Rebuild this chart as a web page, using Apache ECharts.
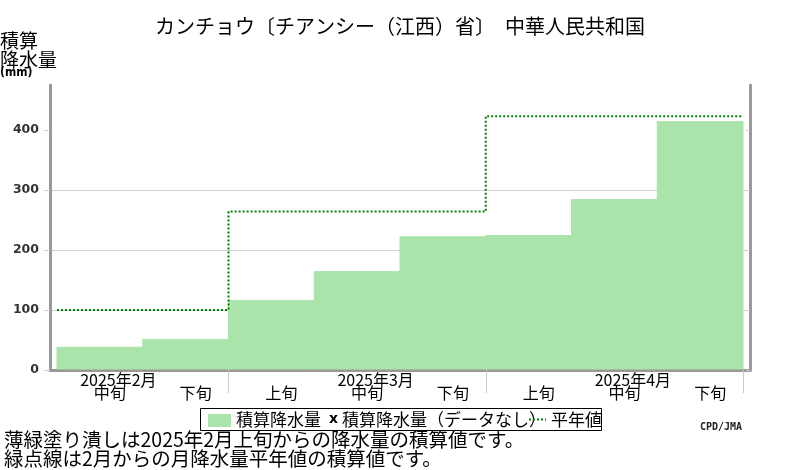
<!DOCTYPE html>
<html>
<head>
<meta charset="utf-8">
<script src="https://cdn.jsdelivr.net/npm/echarts@6/dist/echarts.min.js"></script>
<style>
  html, body { margin: 0; padding: 0; background: #fff; }
  #chart { width: 800px; height: 470px; }
</style>
</head>
<body>
<div id="chart"></div>
<script>
// 旬ごとのラベル（2月中旬〜4月下旬）
const decades = ['中旬', '下旬', '上旬', '中旬', '下旬', '上旬', '中旬', '下旬']
const months = ['2025年2月', '2025年3月', '2025年4月']
const monthDecadeCount = [2, 3, 3]
// 積算降水量 (mm)
const accumPrecip = [38, 51, 116, 164, 222, 224, 284, 414]
// 月降水量平年値の積算値 (mm)
const normalAccum = [100, 264, 423]
const yTicks = [0, 100, 200, 300, 400]

const GREEN = '#abe4ab'
const DOT = '#008000'
const JP = '"Noto Sans CJK JP", sans-serif'

// month boundaries and label positions, in decade units
const monthEnds = []
const monthLabelPos = []
let acc = 0
monthDecadeCount.forEach((n) => {
  // month label sits over the 中旬 of each month
  for (let k = acc; k < acc + n; k++) {
    if (decades[k] === '中旬') { monthLabelPos.push(k + 0.5); break }
  }
  acc += n
  monthEnds.push(acc)
})
const decadeCenters = decades.map((d, i) => i + 0.5)

// step line of normals
const normalLine = []
let start = 0
normalAccum.forEach((v, m) => {
  normalLine.push([start, v])
  normalLine.push([monthEnds[m], v])
  start = monthEnds[m]
})

const pad = 7 / 85.75
const chart = echarts.init(document.getElementById('chart'))

const option = {
  animation: false,
  title: {
    text: 'カンチョウ〔チアンシー（江西）省〕　中華人民共和国',
    left: 150,
    top: 11,
    textStyle: { fontFamily: JP, fontSize: 20, fontWeight: 'normal', color: '#000' },
  },
  grid: { left: 50, right: 50, top: 85, bottom: 100, containLabel: false },
  xAxis: [
    {
      type: 'value',
      min: -pad,
      max: 8 + pad,
      axisLine: { show: true, lineStyle: { color: '#999', width: 3 } },
      axisTick: { show: true, customValues: monthEnds, length: 23, lineStyle: { color: '#ccc', width: 1 } },
      axisLabel: {
        customValues: decadeCenters,
        formatter: (v) => decades[Math.floor(v)],
        margin: 15,
        padding: [0, 0, 0, 20],
        fontFamily: JP,
        fontSize: 16,
        color: '#000',
      },
      splitLine: { show: false },
    },
    {
      type: 'value',
      position: 'bottom',
      min: -pad,
      max: 8 + pad,
      axisLine: { show: false },
      axisTick: { show: false },
      axisLabel: {
        customValues: monthLabelPos,
        formatter: (v) => months[monthLabelPos.indexOf(v)],
        margin: 2,
        padding: [0, 0, 0, 37],
        fontFamily: JP,
        fontSize: 16,
        color: '#000',
      },
      splitLine: { show: false },
    },
  ],
  yAxis: [
    {
      type: 'value',
      min: 0,
      max: 475,
      interval: 100,
      axisLine: { show: true, onZero: false, lineStyle: { color: '#999', width: 3 } },
      axisTick: { show: true, length: 6, customValues: yTicks, lineStyle: { color: '#ccc' } },
      axisLabel: {
        customValues: yTicks,
        margin: 11,
        fontFamily: 'DejaVu Sans',
        fontWeight: 'bold',
        fontSize: 12.5,
        color: '#333',
      },
      splitLine: { show: true, showMaxLine: false, lineStyle: { color: '#d0d0d0', width: 1 } },
    },
    {
      type: 'value',
      position: 'right',
      min: 0,
      max: 475,
      interval: 100,
      axisLine: { show: true, onZero: false, lineStyle: { color: '#999', width: 3 } },
      axisTick: { show: true, inside: true, length: 4, customValues: yTicks, lineStyle: { color: '#ccc' } },
      axisLabel: { show: false },
      splitLine: { show: false },
    },
  ],
  series: [
    {
      name: '積算降水量',
      type: 'custom',
      xAxisIndex: 0,
      yAxisIndex: 0,
      data: accumPrecip.map((v, i) => [i, v]),
      renderItem: (params, api) => {
        const p0 = api.coord([api.value(0), 0])
        const p1 = api.coord([api.value(0) + 1, api.value(1)])
        return {
          type: 'rect',
          shape: { x: p0[0], y: p1[1], width: p1[0] - p0[0], height: p0[1] - p1[1] - 1 },
          style: { fill: GREEN, stroke: GREEN, lineWidth: 1 },
        }
      },
      z: 2,
    },
    {
      name: '平年値',
      type: 'line',
      xAxisIndex: 0,
      yAxisIndex: 0,
      data: normalLine,
      showSymbol: false,
      symbol: 'none',
      lineStyle: { color: DOT, width: 2, type: [2, 2] },
      z: 3,
    },
  ],
  graphic: [
    // y axis name
    {
      type: 'text', left: 0, top: 31,
      style: { text: '積算\n降水量', font: '19px ' + JP, lineHeight: 19, fill: '#000' },
    },
    {
      type: 'text', left: 0, top: 67,
      style: { text: '(mm)', font: 'bold 12px "DejaVu Sans Condensed"', fill: '#000' },
    },
    // legend box
    {
      type: 'group', left: 200, top: 408,
      children: [
        { type: 'rect', shape: { x: 0.5, y: 0.5, width: 401, height: 22 }, style: { fill: '#fff', stroke: '#000', lineWidth: 1 } },
        { type: 'rect', shape: { x: 8, y: 6, width: 23, height: 13 }, style: { fill: GREEN } },
        { type: 'text', x: 36, y: 12, style: { text: '積算降水量', font: '17px ' + JP, fill: '#000', verticalAlign: 'middle' } },
        { type: 'text', x: 129, y: 11, style: { text: 'x', font: 'bold 14px "DejaVu Sans"', fill: '#000', verticalAlign: 'middle' } },
        { type: 'text', x: 142, y: 12, style: { text: '積算降水量（データなし）', font: '17px ' + JP, fill: '#000', verticalAlign: 'middle' } },
        { type: 'line', shape: { x1: 329, y1: 11.5, x2: 346, y2: 11.5 }, style: { stroke: DOT, lineWidth: 2, lineDash: [2, 2] } },
        { type: 'text', x: 351, y: 12, style: { text: '平年値', font: '17px ' + JP, fill: '#000', verticalAlign: 'middle' } },
      ],
    },
    {
      type: 'text', left: 700, top: 422,
      style: { text: 'CPD/JMA', font: 'bold 10px "DejaVu Sans Mono"', fill: '#222' },
    },
    // notes
    {
      type: 'text', left: 4, top: 430,
      style: {
        text: '薄緑塗り潰しは2025年2月上旬からの降水量の積算値です。\n緑点線は2月からの月降水量平年値の積算値です。',
        font: '19.5px ' + JP, lineHeight: 19, fill: '#000',
      },
    },
  ],
}

chart.setOption(option)
</script>
</body>
</html>
